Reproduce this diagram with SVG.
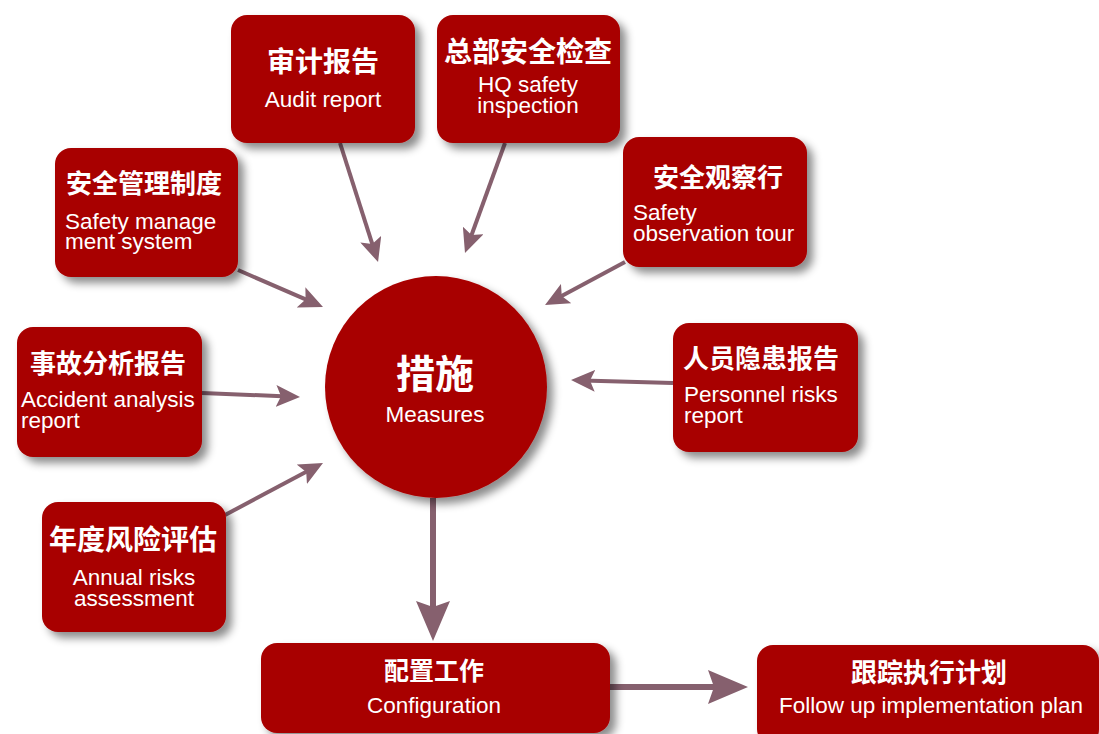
<svg xmlns="http://www.w3.org/2000/svg" width="1099" height="734" viewBox="0 0 1099 734">
<defs>
<filter id="sh" x="-20%" y="-20%" width="150%" height="150%">
<feDropShadow dx="6" dy="6" stdDeviation="4" flood-color="#000" flood-opacity="0.45"/>
</filter>
<marker id="ah" markerUnits="userSpaceOnUse" markerWidth="24" markerHeight="22" viewBox="0 0 24 22" refX="12" refY="11" orient="auto">
<path d="M0,0 L24,11 L0,22 L5,11 Z" fill="#86606e"/>
</marker>
<marker id="ahb" markerUnits="userSpaceOnUse" markerWidth="40" markerHeight="34" viewBox="0 0 40 34" refX="20" refY="17" orient="auto">
<path d="M0,0 L40,17 L0,34 L6,17 Z" fill="#86606e"/>
</marker>
</defs>
<style>
.box{fill:#a80000;filter:url(#sh)}
.zh{font-family:"Noto Sans CJK SC","Liberation Sans",sans-serif;font-weight:bold;fill:#fff}
.en{font-family:"Liberation Sans","Noto Sans CJK SC",sans-serif;font-size:22.5px;fill:#fff}
.c{text-anchor:middle}
.ln{stroke:#86606e;stroke-width:4;fill:none;marker-end:url(#ah)}
.lb{stroke:#86606e;stroke-width:6;fill:none;marker-end:url(#ahb)}
</style>
<rect width="1099" height="734" fill="#fff"/>
<g id="connectors">
<line class="ln" x1="340" y1="143" x2="374.4" y2="250.6"/>
<line class="ln" x1="505" y1="143" x2="469.1" y2="241.7"/>
<line class="ln" x1="238" y1="270" x2="312" y2="302.2"/>
<line class="ln" x1="625" y1="262" x2="555.6" y2="299.3"/>
<line class="ln" x1="202" y1="393" x2="288" y2="396.5"/>
<line class="ln" x1="225" y1="515" x2="312.4" y2="468.6"/>
<line class="ln" x1="673" y1="383" x2="583" y2="380.4"/>
<line class="lb" x1="433" y1="498" x2="433" y2="621"/>
<line class="lb" x1="610" y1="687" x2="728" y2="687"/>
</g>
<g id="audit">
<rect class="box" x="231" y="15" width="184" height="128" rx="16"/>
<text class="zh c" x="323" y="72" font-size="28">审计报告</text>
<text class="en c" x="323" y="107">Audit report</text>
</g>
<g id="hq">
<rect class="box" x="437" y="15" width="183" height="128" rx="16"/>
<text class="zh c" x="528" y="62" font-size="28">总部安全检查</text>
<text class="en c" x="528" y="92">HQ safety</text>
<text class="en c" x="528" y="113">inspection</text>
</g>
<g id="mgmt">
<rect class="box" x="55" y="148" width="183" height="129" rx="16"/>
<text class="zh c" x="144" y="193" font-size="26">安全管理制度</text>
<text class="en" x="65" y="229">Safety manage</text>
<text class="en" x="65" y="249">ment system</text>
</g>
<g id="observation">
<rect class="box" x="623" y="137" width="184" height="130" rx="16"/>
<text class="zh c" x="718" y="187" font-size="26">安全观察行</text>
<text class="en" x="633" y="220">Safety</text>
<text class="en" x="633" y="241">observation tour</text>
</g>
<g id="accident">
<rect class="box" x="17" y="327" width="185" height="130" rx="16"/>
<text class="zh c" x="108" y="373" font-size="26">事故分析报告</text>
<text class="en" x="21" y="407">Accident analysis</text>
<text class="en" x="21" y="428">report</text>
</g>
<g id="annual">
<rect class="box" x="42" y="502" width="184" height="130" rx="16"/>
<text class="zh c" x="133" y="550" font-size="28">年度风险评估</text>
<text class="en c" x="134" y="585">Annual risks</text>
<text class="en c" x="134" y="606">assessment</text>
</g>
<g id="personnel">
<rect class="box" x="673" y="323" width="185" height="129" rx="16"/>
<text class="zh c" x="761" y="368" font-size="26">人员隐患报告</text>
<text class="en" x="684" y="402">Personnel risks</text>
<text class="en" x="684" y="423">report</text>
</g>
<g id="measures">
<circle class="box" cx="436" cy="387" r="111"/>
<text class="zh c" x="435" y="388" font-size="39">措施</text>
<text class="en c" x="435" y="422">Measures</text>
</g>
<g id="configuration">
<rect class="box" x="261" y="643" width="349" height="90" rx="16"/>
<text class="zh c" x="434" y="680" font-size="25">配置工作</text>
<text class="en c" x="434" y="713">Configuration</text>
</g>
<g id="followup">
<rect class="box" x="757" y="645" width="342" height="100" rx="16"/>
<text class="zh c" x="929" y="682" font-size="26">跟踪执行计划</text>
<text class="en c" x="931" y="713">Follow up implementation plan</text>
</g>
</svg>
